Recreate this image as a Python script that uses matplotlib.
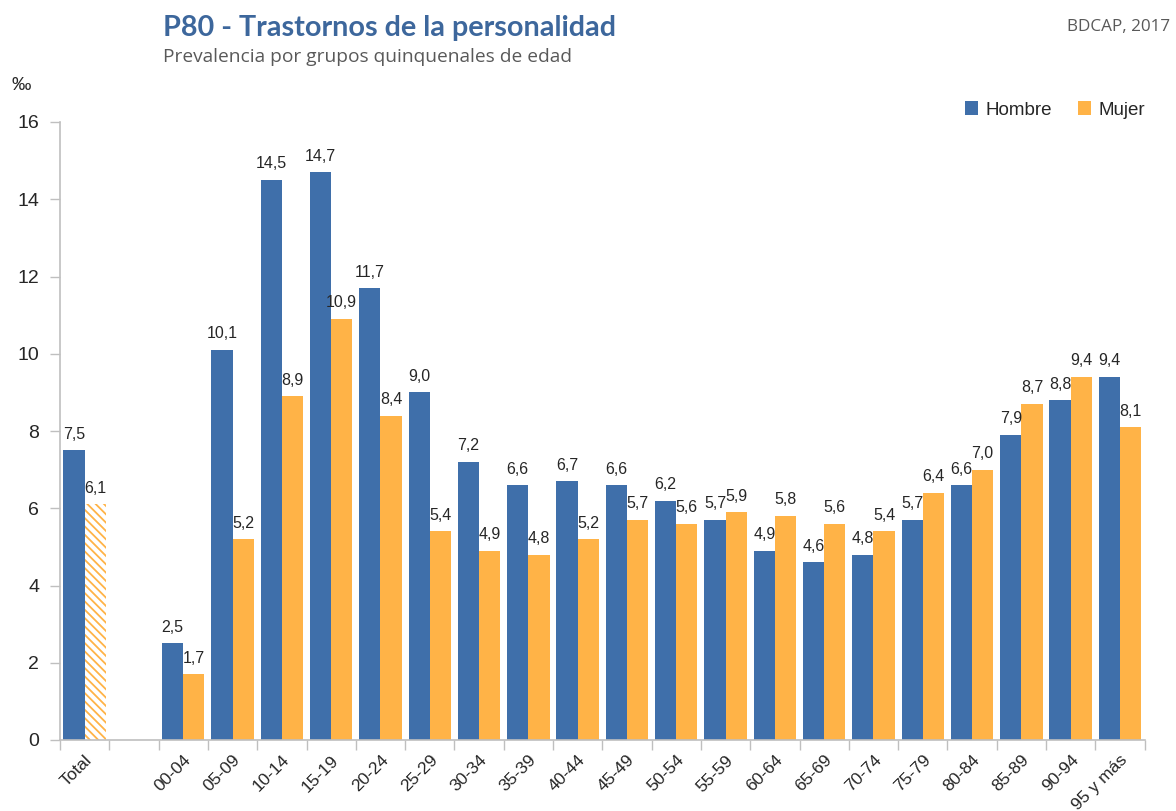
import numpy as np
import matplotlib
matplotlib.use("Agg")
import matplotlib.pyplot as plt
from matplotlib.patches import Patch

# ---- data ----
categories = ["Total", "00-04", "05-09", "10-14", "15-19", "20-24", "25-29", "30-34",
              "35-39", "40-44", "45-49", "50-54", "55-59", "60-64", "65-69", "70-74",
              "75-79", "80-84", "85-89", "90-94", "95 y más"]
hombre = [7.5, 2.5, 10.1, 14.5, 14.7, 11.7, 9.0, 7.2, 6.6, 6.7, 6.6, 6.2, 5.7, 4.9,
          4.6, 4.8, 5.7, 6.6, 7.9, 8.8, 9.4]
mujer = [6.1, 1.7, 5.2, 8.9, 10.9, 8.4, 5.4, 4.9, 4.8, 5.2, 5.7, 5.6, 5.9, 5.8,
         5.6, 5.4, 6.4, 7.0, 8.7, 9.4, 8.1]
yticks = [0, 2, 4, 6, 8, 10, 12, 14, 16]
series_names = ["Hombre", "Mujer"]
title = "P80 - Trastornos de la personalidad"
subtitle = "Prevalencia por grupos quinquenales de edad"
source = "BDCAP, 2017"

BLUE = "#3F6FAA"
ORANGE = "#FFB347"
TXT = "#262626"

plt.rcParams['font.family'] = ['Liberation Sans', 'DejaVu Sans']
plt.rcParams['hatch.linewidth'] = 1.3

fig = plt.figure(figsize=(11.76, 8.11), dpi=100)
ax = fig.add_axes([60/1176, 71/811, (1144.6-60)/1176, (740-122)/811])

# slot positions: Total, one empty slot, then age groups
x = np.array([0] + list(range(2, 2 + len(categories) - 1)), dtype=float)
w = 0.43

for i, (xi, h, m) in enumerate(zip(x, hombre, mujer)):
    ax.bar(xi - w/2, h, width=w, color=BLUE, edgecolor='none', zorder=2)
    if i == 0:
        ax.bar(xi + w/2, m, width=w, facecolor='white', edgecolor=ORANGE,
               hatch='\\\\\\\\', linewidth=0, zorder=2)
    else:
        ax.bar(xi + w/2, m, width=w, color=ORANGE, edgecolor='none', zorder=2)
    ax.text(xi - w/2, h + 0.22, f"{h:.1f}".replace('.', ','), ha='center', va='bottom',
            fontsize=11.5, color=TXT)
    ax.text(xi + w/2, m + 0.22, f"{m:.1f}".replace('.', ','), ha='center', va='bottom',
            fontsize=11.5, color=TXT)

ax.set_xlim(-0.5, 21.5)
ax.set_ylim(0, 16)
ax.set_yticks(yticks)
ax.set_yticklabels([str(t) for t in yticks], fontsize=14, color=TXT)
ax.set_xticks(x)
ax.set_xticklabels(categories, rotation=45, ha='right', rotation_mode='anchor',
                   fontsize=12.5, color=TXT)
ax.set_xticks(np.arange(-0.5, 22, 1.0), minor=True)
ax.tick_params(axis='x', which='major', length=0, pad=9)
ax.tick_params(axis='x', which='minor', length=7, color='#BFBFBF', width=1)
ax.tick_params(axis='y', length=7, color='#BFBFBF', width=1, pad=8)

for s in ['top', 'right']:
    ax.spines[s].set_visible(False)
for s in ['left', 'bottom']:
    ax.spines[s].set_color('#BFBFBF')
    ax.spines[s].set_linewidth(1.2)

# titles
fig.text(163/1176, 1 - 28/811, title, fontsize=20.7, fontweight='bold', color='#3D679C',
         ha='left', va='center', family=['Lato', 'DejaVu Sans'])
fig.text(163/1176, 1 - 57/811, subtitle, fontsize=13.8, color='#595959',
         ha='left', va='center', family=['Open Sans', 'DejaVu Sans'])
fig.text(1170/1176, 1 - 27/811, source, fontsize=12.3, color='#595959',
         ha='right', va='center', family=['Open Sans', 'DejaVu Sans'])
fig.text(12/1176, 1 - 85/811, "‰", fontsize=14, color=TXT, ha='left', va='center')

handles = [Patch(facecolor=BLUE, edgecolor='none'), Patch(facecolor=ORANGE, edgecolor='none')]
fig.legend(handles, series_names, loc='center right', bbox_to_anchor=(1162/1176, 1 - 110/811),
           ncol=2, frameon=False, fontsize=13.5, handlelength=0.7, handleheight=0.7,
           handletextpad=0.4, columnspacing=1.4, labelcolor=TXT)

fig.savefig("out.png", dpi=100)
